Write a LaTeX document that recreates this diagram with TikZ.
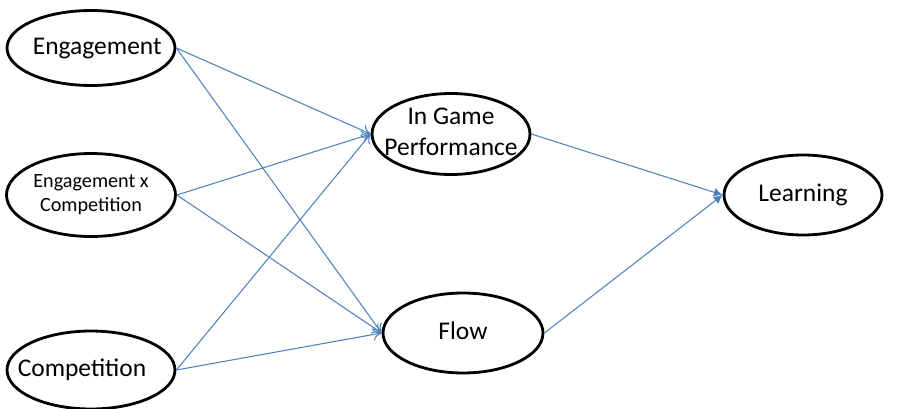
\documentclass[tikz,border=0pt]{standalone}
\usepackage{fontspec}
\setmainfont{Carlito}
\usetikzlibrary{shapes.geometric,arrows.meta}
\definecolor{pathblue}{RGB}{79,129,189}
% text that does not widen the oval round it
\newcommand{\ovalText}[1]{\raisebox{-0.5em}{\smash{\makebox[0pt]{\begin{tabular}{@{}c@{}}#1\end{tabular}}}}}

\begin{document}
\begin{tikzpicture}[x=0.02cm,y=-0.02cm,
  construct/.style={ellipse, draw=black, line width=1.6pt, inner sep=0pt,
    font=\fontsize{14.5}{17.6}\selectfont},
  path in/.style={draw=pathblue, line width=0.6pt, -{To[length=5pt,width=7pt]}},
  path out/.style={draw=pathblue, line width=0.6pt, -{Latex[length=5pt,width=5pt]}}]
\useasboundingbox (0,0) rectangle (910,409);
% predictors
\node[construct, minimum width=3.36cm, minimum height=1.5cm] (eng) at (91,48) {\ovalText{\hspace{0.25cm}Engagement}};
\node[construct, minimum width=3.38cm, minimum height=1.66cm, font=\fontsize{11.5}{14}\selectfont] (engcomp) at (91,195) {\ovalText{Engagement x\\Competition}};
\node[construct, minimum width=3.36cm, minimum height=1.56cm] (comp) at (91,370) {\ovalText{\hspace{-0.36cm}Competition}};
% mediators
\node[construct, minimum width=3.16cm, minimum height=1.62cm] (perf) at (451,134) {\ovalText{In Game\\Performance}};
\node[construct, minimum width=3.2cm, minimum height=1.6cm] (flow) at (463,333) {\ovalText{Flow}};
% outcome
\node[construct, minimum width=3.16cm, minimum height=1.6cm] (learn) at (803,195) {\ovalText{Learning}};
% paths
\draw[path in] (eng.east) -- (perf.west);
\draw[path in] (eng.east) -- (flow.west);
\draw[path in] (engcomp.east) -- (perf.west);
\draw[path in] (engcomp.east) -- (flow.west);
\draw[path in] (comp.east) -- (perf.west);
\draw[path in] (comp.east) -- (flow.west);
\draw[path out] (perf.east) -- (learn.west);
\draw[path out] (flow.east) -- (learn.west);
\end{tikzpicture}
\end{document}
